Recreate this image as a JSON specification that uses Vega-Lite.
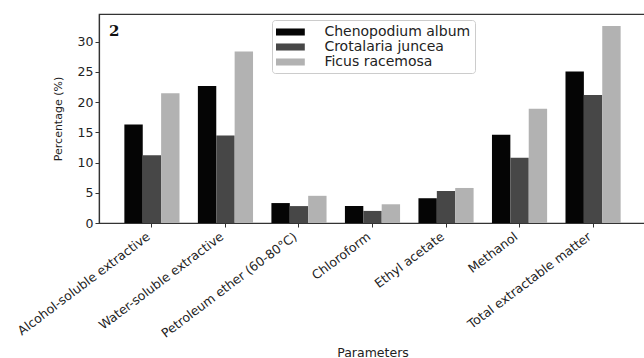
{
  "$schema": "https://vega.github.io/schema/vega-lite/v6.json",
  "autosize": {"type": "none"},
  "padding": {"left": 99, "top": 14, "right": 0, "bottom": 135},
  "width": 547,
  "height": 209,
  "background": "white",
  "title": {"text": "2", "anchor": "start", "frame": "group", "offset": -25, "dx": 10, "font": "DejaVu Serif", "fontWeight": "bold", "fontSize": 15, "color": "#111"},
  "data": {"values": [
    {"Parameter": "Alcohol-soluble extractive", "Species": "Chenopodium album", "Value": 16.3},
    {"Parameter": "Alcohol-soluble extractive", "Species": "Crotalaria juncea", "Value": 11.2},
    {"Parameter": "Alcohol-soluble extractive", "Species": "Ficus racemosa", "Value": 21.5},
    {"Parameter": "Water-soluble extractive", "Species": "Chenopodium album", "Value": 22.7},
    {"Parameter": "Water-soluble extractive", "Species": "Crotalaria juncea", "Value": 14.5},
    {"Parameter": "Water-soluble extractive", "Species": "Ficus racemosa", "Value": 28.4},
    {"Parameter": "Petroleum ether (60-80°C)", "Species": "Chenopodium album", "Value": 3.3},
    {"Parameter": "Petroleum ether (60-80°C)", "Species": "Crotalaria juncea", "Value": 2.8},
    {"Parameter": "Petroleum ether (60-80°C)", "Species": "Ficus racemosa", "Value": 4.5},
    {"Parameter": "Chloroform", "Species": "Chenopodium album", "Value": 2.8},
    {"Parameter": "Chloroform", "Species": "Crotalaria juncea", "Value": 2.0},
    {"Parameter": "Chloroform", "Species": "Ficus racemosa", "Value": 3.1},
    {"Parameter": "Ethyl acetate", "Species": "Chenopodium album", "Value": 4.1},
    {"Parameter": "Ethyl acetate", "Species": "Crotalaria juncea", "Value": 5.3},
    {"Parameter": "Ethyl acetate", "Species": "Ficus racemosa", "Value": 5.8},
    {"Parameter": "Methanol", "Species": "Chenopodium album", "Value": 14.6},
    {"Parameter": "Methanol", "Species": "Crotalaria juncea", "Value": 10.8},
    {"Parameter": "Methanol", "Species": "Ficus racemosa", "Value": 18.9},
    {"Parameter": "Total extractable matter", "Species": "Chenopodium album", "Value": 25.1},
    {"Parameter": "Total extractable matter", "Species": "Crotalaria juncea", "Value": 21.2},
    {"Parameter": "Total extractable matter", "Species": "Ficus racemosa", "Value": 32.6}
  ]},
  "mark": {"type": "bar"},
  "encoding": {
    "x": {
      "field": "Parameter", "type": "nominal",
      "sort": ["Alcohol-soluble extractive", "Water-soluble extractive", "Petroleum ether (60-80°C)", "Chloroform", "Ethyl acetate", "Methanol", "Total extractable matter"],
      "scale": {"paddingInner": 0.25, "paddingOuter": 0.345},
      "axis": {
        "title": "Parameters", "titleFontSize": 12.5, "titleFontWeight": "normal", "titleColor": "#222", "titleFont": "DejaVu Sans",
        "titleY": 129, "titleBaseline": "middle",
        "labelAngle": -37, "labelAlign": "right", "labelBaseline": "top", "labelFontSize": 12.5, "labelFont": "DejaVu Sans", "labelColor": "#222",
        "labelOffset": -7,
        "tickColor": "#333", "tickSize": 4, "domainColor": "#333", "domainWidth": 1.2, "labelPadding": 3
      }
    },
    "xOffset": {"field": "Species", "type": "nominal", "sort": ["Chenopodium album", "Crotalaria juncea", "Ficus racemosa"], "scale": {"paddingInner": 0}},
    "y": {
      "field": "Value", "type": "quantitative",
      "scale": {"domain": [0, 34.6], "nice": false},
      "axis": {
        "title": "Percentage (%)", "titleFontSize": 11, "titleFontWeight": "normal", "titleColor": "#222", "titleFont": "DejaVu Sans",
        "values": [0, 5, 10, 15, 20, 25, 30], "grid": false,
        "labelFontSize": 12.5, "labelFont": "DejaVu Sans", "labelColor": "#222",
        "tickColor": "#333", "tickSize": 4, "domainColor": "#333", "domainWidth": 1.2, "titlePadding": 14
      }
    },
    "color": {
      "field": "Species", "type": "nominal",
      "sort": ["Chenopodium album", "Crotalaria juncea", "Ficus racemosa"],
      "scale": {"domain": ["Chenopodium album", "Crotalaria juncea", "Ficus racemosa"], "range": ["#050505", "#474747", "#b2b2b2"]},
      "legend": {
        "title": null, "orient": "none", "legendX": 173, "legendY": 6,
        "symbolType": "M-1.8,-0.44H1.8V0.44H-1.8Z", "symbolSize": 256, "symbolStrokeWidth": 0, "symbolOffset": 6.4,
        "labelFontSize": 14, "labelFont": "DejaVu Sans", "labelColor": "#222",
        "strokeColor": "#cccccc", "fillColor": "white", "padding": 4, "cornerRadius": 3,
        "rowPadding": 0, "labelOffset": 26
      }
    }
  },
  "config": {"view": {"stroke": "#333", "strokeWidth": 1.2}}
}
